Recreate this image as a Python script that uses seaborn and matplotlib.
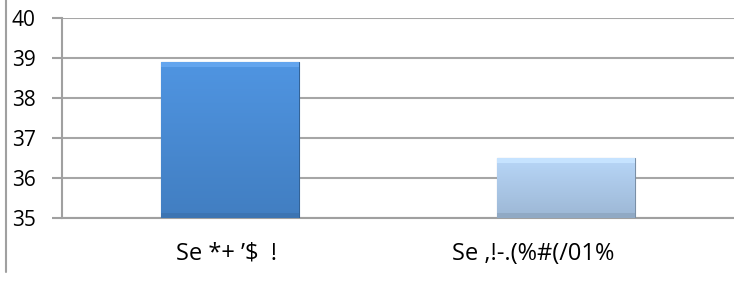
import matplotlib
matplotlib.use("Agg")
import matplotlib.pyplot as plt
import seaborn as sns
import numpy as np
import pandas as pd
from matplotlib.lines import Line2D
from matplotlib.transforms import ScaledTranslation

categories = ["Se *+ \u2019$  !", "Se ,!-.(%#(/01%"]
values = [38.9, 36.5]
bar_colors = ["#4789d2", "#aac7e7"]
y_ticks = [35, 36, 37, 38, 39, 40]

sns.set_theme(style="white")
plt.rcParams['font.family'] = ['Open Sans', 'DejaVu Sans']

fig = plt.figure(figsize=(7.34, 2.81), dpi=100)
ax = fig.add_axes([62/734, 63/281, 1 - 62/734, (218-18)/281])

df = pd.DataFrame({"cat": categories, "val": values})
sns.barplot(data=df, x="cat", y="val", hue="cat", palette=bar_colors,
            width=0.41, legend=False, ax=ax, zorder=3)

ax.set_ylim(35, 40)
ax.set_xlim(-0.5, -0.5 + 672/338)

# bevel-like shading on the bars
px_per_unit = 200 / 5.0
for patch, c in zip(ax.patches, bar_colors):
    x0 = patch.get_x()
    w = patch.get_width()
    top = patch.get_height()
    hpx = (top - 35) * px_per_unit
    n = 400
    base = np.array(matplotlib.colors.to_rgb(c))
    t = np.linspace(0, 1, n)
    light = np.clip(base * 1.05 + 0.02, 0, 1)
    dark = base * 0.92
    col = light[None, :] * (1 - t[:, None]) + dark[None, :] * t[:, None]
    nb = max(1, int(round(n * 5 / hpx)))
    col[:nb] = np.clip(base + 0.11, 0, 1)
    col[-nb:] = base * 0.85
    img = np.repeat(col[:, None, :], 2, axis=1)
    im = ax.imshow(img, extent=[x0, x0 + w, 35, top], aspect='auto', zorder=4,
                   origin='upper', interpolation='nearest')
    im.set_clip_path(patch)
    patch.set_edgecolor(tuple(base * 0.72))
    patch.set_linewidth(0.8)

ax.set_xlim(-0.5, -0.5 + 672/338)
ax.set_ylim(35, 40)
ax.set_yticks(y_ticks)
ax.set_yticklabels([str(t) for t in y_ticks])
ax.set_xlabel("")
ax.set_ylabel("")

ax.set_xticks([0, 1])
ax.set_xticklabels(categories)
ax.set_xticks([-0.5, 0.5, 1.5], minor=True)
ax.tick_params(axis='x', which='major', length=0, pad=17, labelsize=17, labelcolor='black')
ax.tick_params(axis='x', which='minor', length=7, width=1.5, color='#a0a0a0', direction='out')
ax.tick_params(axis='y', length=7, width=1.5, color='#a0a0a0', direction='out', pad=12,
               labelsize=15, labelcolor='black', left=True)

# second label sits left of its bar centre in the reference
offsets = [-3, -33]
for lab, dx in zip(ax.get_xticklabels(), offsets):
    lab.set_transform(lab.get_transform() + ScaledTranslation(dx / 100, 0, fig.dpi_scale_trans))

ax.grid(axis='y', color='#a6a6a6', linewidth=1.5, zorder=0)
ax.set_axisbelow(True)
for s in ['top', 'right']:
    ax.spines[s].set_visible(False)
ax.spines['left'].set_color('#a0a0a0')
ax.spines['left'].set_linewidth(1.5)
ax.spines['bottom'].set_color('#a0a0a0')
ax.spines['bottom'].set_linewidth(1.5)

fig.add_artist(Line2D([5.5/734, 5.5/734], [1 - 0/281, 1 - 272/281], color='#a0a0a0',
                      linewidth=1.5, transform=fig.transFigure))

fig.savefig("out.png", dpi=100)
